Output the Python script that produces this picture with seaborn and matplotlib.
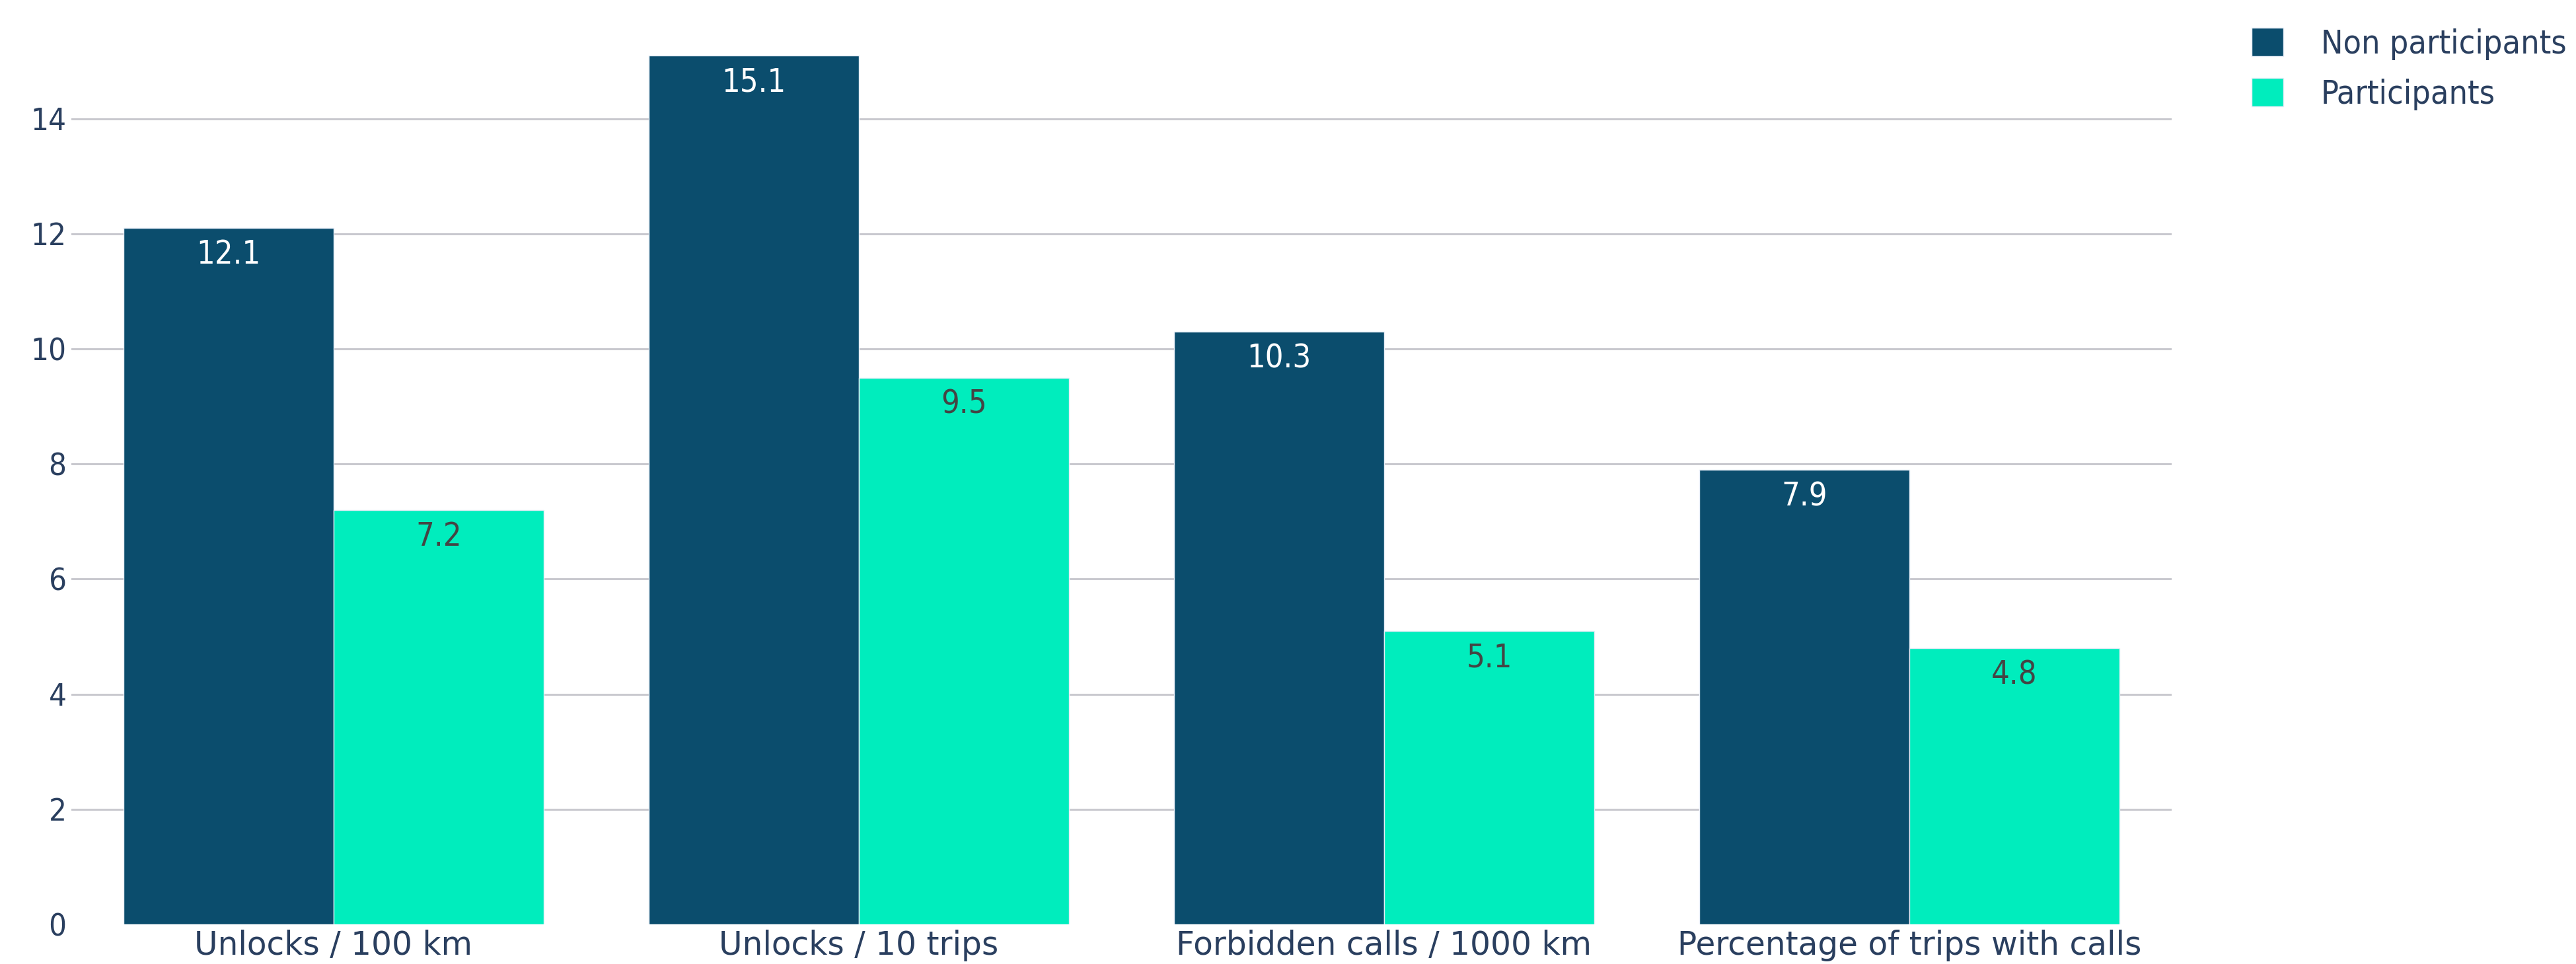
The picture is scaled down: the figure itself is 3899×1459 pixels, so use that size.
import matplotlib
matplotlib.use("Agg")
import matplotlib.pyplot as plt
import seaborn as sns
import pandas as pd
from matplotlib.patches import Patch

# Metrics compared between the two driver groups
categories = ["Unlocks / 100 km", "Unlocks / 10 trips",
              "Forbidden calls / 1000 km", "Percentage of trips with calls"]
groups = ["Non participants", "Participants"]
non_participants = [12.1, 15.1, 10.3, 7.9]
participants = [7.2, 9.5, 5.1, 4.8]
y_ticks = [0, 2, 4, 6, 8, 10, 12, 14]

dark = "#0B4D6D"
mint = "#00EDBD"
text_color = "#2A3F5F"
grid_color = "#C9C9CF"

df = pd.DataFrame({
    "metric": categories * 2,
    "group": [groups[0]] * 4 + [groups[1]] * 4,
    "value": non_participants + participants,
})

sns.set_theme(style="white")
plt.rcParams["font.family"] = ["DejaVu Sans"]
plt.rcParams["font.stretch"] = "condensed"

W, H = 3899, 1459
fig = plt.figure(figsize=(W / 100, H / 100), dpi=100)
left, right, bottom_px = 107.5, 3287.5, 1399
top_val = 15.9
px_per_unit = 87.1
top_px = bottom_px - top_val * px_per_unit
ax = fig.add_axes([left / W, (H - bottom_px) / H, (right - left) / W,
                   (bottom_px - top_px) / H])

sns.barplot(data=df, x="metric", y="value", hue="group", order=categories,
            hue_order=groups, palette=[dark, mint], width=0.8, gap=0,
            edgecolor="#E5ECF6", linewidth=1.0, saturation=1, ax=ax,
            legend=False, zorder=3)

ax.set_ylim(0, top_val)
ax.set_xlim(-0.5, len(categories) - 0.5)
ax.set_yticks(y_ticks)
ax.set_xlabel("")
ax.set_ylabel("")
for s in ax.spines.values():
    s.set_visible(False)

ax.grid(axis="y", color=grid_color, linewidth=2.2, zorder=0)
ax.yaxis.get_gridlines()[0].set_visible(False)
ax.set_axisbelow(True)
ax.tick_params(axis="y", length=0, pad=5, labelsize=34, labelcolor=text_color)
ax.tick_params(axis="x", length=0, pad=6, labelcolor=text_color)
for lbl in ax.get_xticklabels():
    lbl.set_fontsize(35)
    lbl.set_fontstretch("normal")

# Value labels inside the top of each bar
label_colors = ["white", "#444444"]
for container, vals, col in zip(ax.containers, [non_participants, participants], label_colors):
    for bar, v in zip(container, vals):
        ax.annotate(f"{v:.1f}", xy=(bar.get_x() + bar.get_width() / 2, v),
                    xytext=(0, -29), textcoords="offset points",
                    ha="center", va="center", fontsize=35, color=col, zorder=5)

handles = [Patch(facecolor=dark, edgecolor="#E5ECF6", linewidth=1.0),
           Patch(facecolor=mint, edgecolor="#E5ECF6", linewidth=1.0)]
leg = fig.legend(handles, groups, loc="upper left",
                 bbox_to_anchor=(3408 / W, 1 - 42 / H), frameon=False,
                 prop={"size": 36, "stretch": "condensed"},
                 labelcolor=text_color, handlelength=0.95,
                 handleheight=0.95, handletextpad=1.15, labelspacing=0.55,
                 borderpad=0, borderaxespad=0)

fig.savefig("out.png", dpi=100, facecolor="white")
